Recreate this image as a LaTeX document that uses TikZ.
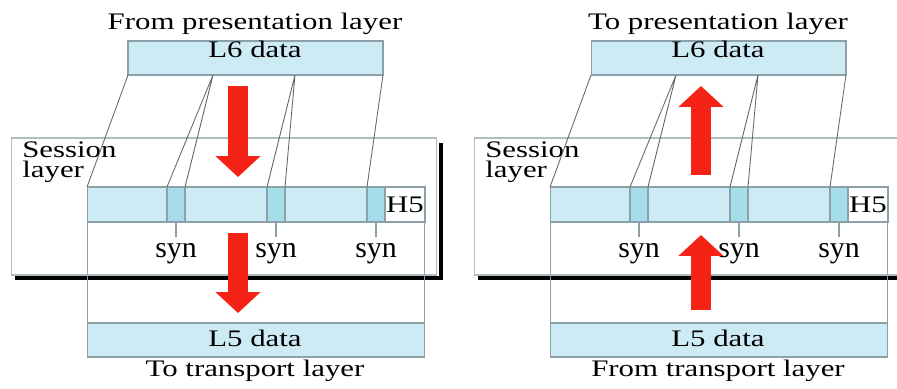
\documentclass[tikz,border=0pt]{standalone}
\usepackage{fontspec}
\setmainfont{Liberation Serif}
\newfontfamily\widefont[FakeStretch=1.3]{Liberation Serif}
\usetikzlibrary{arrows.meta}
\definecolor{boxblue}{RGB}{205,235,244}
\definecolor{synblue}{RGB}{166,221,234}
\definecolor{edgegray}{RGB}{140,160,168}
\definecolor{fangray}{RGB}{105,105,105}
\definecolor{flowred}{RGB}{245,35,22}

\begin{document}
\begin{tikzpicture}[x=0.02cm, y=-0.02cm,
    pane/.style={draw=edgegray!70, fill=white, line width=0.6pt,
                 minimum width=8.52cm, minimum height=2.74cm, inner sep=0, outer sep=0},
    databox/.style={draw=edgegray, fill=boxblue, line width=0.6pt, inner sep=0, outer sep=0},
    synbox/.style={databox, fill=synblue, minimum width=0.36cm, minimum height=0.7cm},
    lbl/.style={font=\widefont\fontsize{13.5}{11.2}\selectfont, inner sep=0, anchor=base},
    synlbl/.style={font=\fontsize{17}{20}\selectfont, inner sep=0, outer ysep=0.14cm, anchor=base},
    fan/.style={draw=fangray, line width=0.5pt},
    dropline/.style={draw=black, line width=2.4pt},
    bigarrow/.style={draw=flowred, line width=0.4cm, -{Triangle[width=0.88cm, length=0.42cm]}}
  ]
  \useasboundingbox (0,0) rectangle (897,389);
  \clip (0,0) rectangle (897,389);
  \foreach \p/\dx/\toptxt/\bottxt/\ya/\yb/\yc/\yd in
      {a/0/From presentation layer/To transport layer/86/177/233/313,
       b/463/To presentation layer/From transport layer/175/86/310/235}{
  \begin{scope}[xshift=\dx*0.02cm]
    % session layer frame with its shadow
    \node[pane] (sess\p) at (224,206.5) {};
    \draw[dropline] ([shift={(4,5)}]sess\p.north east) |- ([shift={(4,3)}]sess\p.south west);
    \node[lbl, anchor=north west, align=left] (ses\p) at (22,141.5) {Session\\layer};
    % data units
    \node[databox, minimum width=5.1cm, minimum height=0.68cm] (l6\p) at (255.5,58) {};
    \node[lbl] (l6t\p) at (255,57) {L6 data};
    \node[lbl] (top\p) at (255,29) {\toptxt};
    \node[draw=edgegray, line width=0.6pt, minimum width=6.76cm, minimum height=3.4cm,
          inner sep=0, outer sep=0] (frame\p) at (256,272) {};
    \node[databox, minimum width=5.96cm, minimum height=0.7cm] (row\p) at (236,204.5) {};
    \node[draw=edgegray, fill=white, line width=0.6pt, minimum width=0.8cm, minimum height=0.7cm,
          inner sep=0, outer sep=0, font=\widefont\fontsize{13.5}{15}\selectfont] (h5\p) at (405,204.5) {H5};
    \node[databox, minimum width=6.76cm, minimum height=0.68cm] (l5\p) at (256,340) {};
    \node[lbl] (l5t\p) at (255,346.7) {L5 data};
    \node[lbl] (bot\p) at (255,376.7) {\bottxt};
    \foreach \i/\cx in {1/176,2/276,3/376}{
      \node[synbox] (c\i\p) at (\cx,204.5) {};
      \node[synlbl] (s\i\p) at (\cx,257.7) {syn};
      \draw[edgegray, line width=0.6pt] (c\i\p.south) -- (s\i\p.north);
    }
    % fan lines from L6 data
    \coordinate (fa\p) at (213,75);
    \coordinate (fb\p) at (295,75);
    \draw[fan] (l6\p.south west) -- (row\p.north west);
    \draw[fan] (c1\p.north west) -- (fa\p) -- (c1\p.north east);
    \draw[fan] (c2\p.north west) -- (fb\p) -- (c2\p.north east);
    \draw[fan] (l6\p.south east) -- (c3\p.north west);
    % flow arrows
    \coordinate (u1\p) at (238,\ya);
    \coordinate (u2\p) at (238,\yb);
    \coordinate (d1\p) at (238,\yc);
    \coordinate (d2\p) at (238,\yd);
    \draw[bigarrow] (u1\p) -- (u2\p);
    \draw[bigarrow] (d1\p) -- (d2\p);
  \end{scope}
  }
\end{tikzpicture}
\end{document}
